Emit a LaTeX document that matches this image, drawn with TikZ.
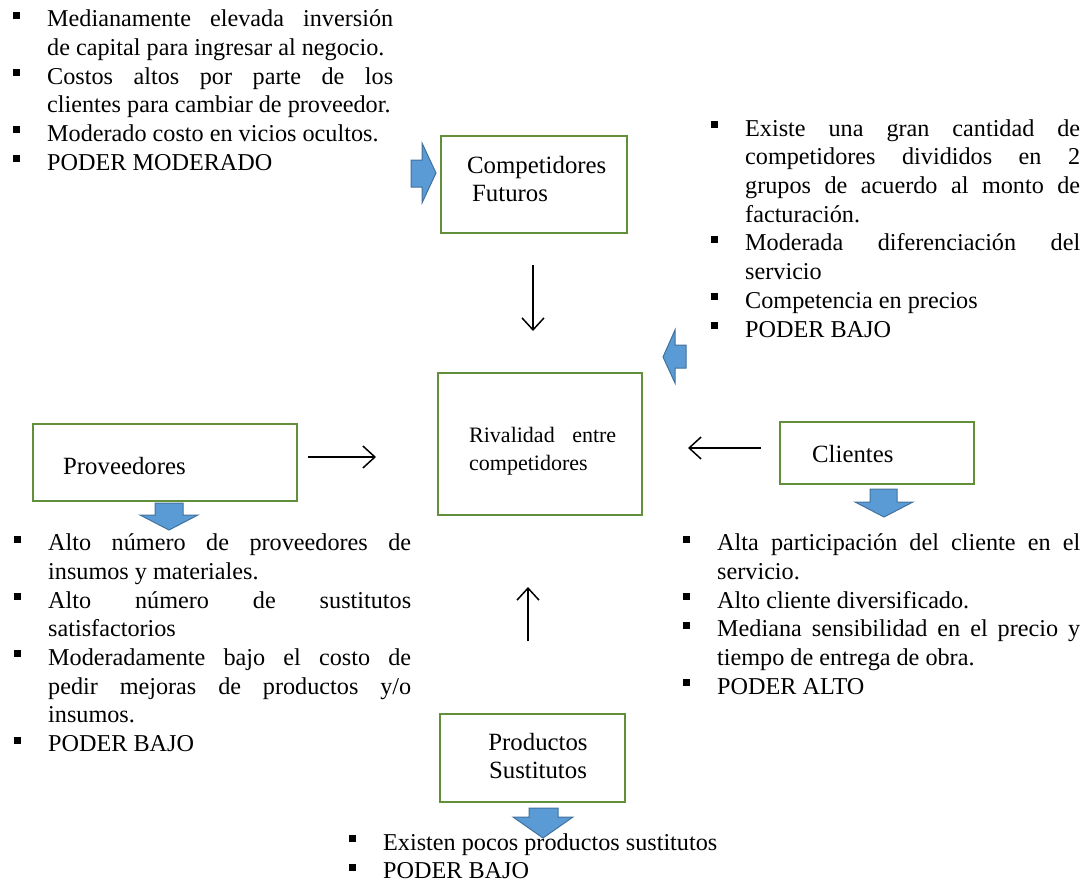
\documentclass[tikz,border=0pt]{standalone}
\usepackage{fontspec}
\setmainfont{Liberation Serif}
\usetikzlibrary{arrows.meta}
\definecolor{boxgreen}{RGB}{98,143,58}
\definecolor{arrowblue}{RGB}{91,155,213}
\definecolor{arrowedge}{RGB}{65,113,156}
\newcommand{\fbullet}{\noindent\llap{\rule[8pt]{7pt}{7pt}\hspace{27pt}}\strut}
\newcommand{\nohyph}{\hyphenpenalty=10000\relax\exhyphenpenalty=10000\relax\tolerance=10000\relax}
\begin{document}
\begin{tikzpicture}[x=1pt,y=-1pt,
  forcebox/.style={draw=boxgreen, line width=2.5pt, fill=white, inner sep=0pt, rectangle},
  listtext/.style={inner sep=0pt, anchor=north west, align=justify,
    font=\fontsize{24.2}{28.7}\selectfont\nohyph},
  boxtext/.style={inner sep=0pt, anchor=north west, align=left, font=\fontsize{24.8}{28.7}\selectfont},
  flow/.style={-{Straight Barb[length=12pt,width=22pt]}, line width=1.5pt},
  blockarrow/.style={fill=arrowblue, draw=arrowedge, line width=1pt}]
\useasboundingbox (0,0) rectangle (1088,886);

% boxes
\node[forcebox, minimum width=186pt, minimum height=97pt] (fut) at (534,184.5) {};
\node[forcebox, minimum width=204pt, minimum height=142pt] (riv) at (540,444) {};
\node[forcebox, minimum width=264pt, minimum height=77pt] (prov) at (165,462.5) {};
\node[forcebox, minimum width=194pt, minimum height=62pt] (cli) at (877,453) {};
\node[forcebox, minimum width=185pt, minimum height=88pt] (sus) at (532.5,758) {};

% box texts
\node[boxtext] (futtxt) at (467,153) {\strut Competidores\\\strut\hspace*{5pt}Futuros};
\node[inner sep=0pt, anchor=north west, align=justify, text width=147pt,
  font=\fontsize{22}{28}\selectfont] (rivtxt) at (469,422.4) {\strut Rivalidad entre competidores};
\node[boxtext] (provtxt) at (63,454) {\strut Proveedores};
\node[boxtext] (clitxt) at (812,442) {\strut Clientes};
\node[boxtext, anchor=north, align=center] (sustxt) at (538,730) {\strut Productos\\\strut Sustitutos};

% lists
\node[listtext, text width=346pt] (listfut) at (47,6.4) {%
\fbullet Medianamente elevada inversión\linebreak de capital para ingresar al negocio.\par
\fbullet Costos altos por parte de los\linebreak clientes para cambiar de proveedor.\par
\fbullet Moderado costo en vicios ocultos.\par
\fbullet PODER MODERADO\par};

\node[listtext, text width=335pt] (listriv) at (745,115.9) {%
\fbullet Existe una gran cantidad de\linebreak competidores divididos en 2\linebreak grupos de acuerdo al monto de\linebreak facturación.\par
\fbullet Moderada diferenciación del\linebreak servicio\par
\fbullet Competencia en precios\par
\fbullet PODER BAJO\par};

\node[listtext, text width=363pt] (listprov) at (48,530.4) {%
\fbullet Alto número de proveedores de\linebreak insumos y materiales.\par
\fbullet Alto número de sustitutos\linebreak satisfactorios\par
\fbullet Moderadamente bajo el costo de\linebreak pedir mejoras de productos y/o\linebreak insumos.\par
\fbullet PODER BAJO\par};

\node[listtext, text width=363pt] (listcli) at (717,530.4) {%
\fbullet Alta participación del cliente en el\linebreak servicio.\par
\fbullet Alto cliente diversificado.\par
\fbullet Mediana sensibilidad en el precio y\linebreak tiempo de entrega de obra.\par
\fbullet PODER ALTO\par};

\node[listtext, text width=400pt] (listsus) at (383,829.9) {%
\fbullet Existen pocos productos sustitutos\par
\fbullet PODER BAJO\par};

% thin connectors
\coordinate (futA) at (533,265);
\coordinate (futB) at (533,331);
\coordinate (provA) at (308,457);
\coordinate (provB) at (376,457);
\coordinate (cliA) at (761,448);
\coordinate (cliB) at (688,448);
\coordinate (susA) at (528,641);
\coordinate (susB) at (528,587);
\draw[flow] (futA) -- (futB);
\draw[flow] (provA) -- (provB);
\draw[flow] (cliA) -- (cliB);
\draw[flow] (susA) -- (susB);

% block arrows
\draw[blockarrow] (411,160) -- (422,160) -- (422,143) -- (436,173) -- (422,203) -- (422,187) -- (411,187) -- cycle;
\draw[blockarrow] (686,345) -- (675,345) -- (675,330) -- (663,357) -- (675,383) -- (675,368) -- (686,368) -- cycle;
\draw[blockarrow] (870,489) -- (897,489) -- (897,502) -- (913,502) -- (884,517) -- (855,502) -- (870,502) -- cycle;
\draw[blockarrow] (155,503) -- (183,503) -- (183,515) -- (198,515) -- (169,530) -- (140,515) -- (155,515) -- cycle;
\draw[blockarrow] (529,808) -- (558,808) -- (558,817) -- (573,817) -- (543,838) -- (513,817) -- (529,817) -- cycle;
\end{tikzpicture}
\end{document}
